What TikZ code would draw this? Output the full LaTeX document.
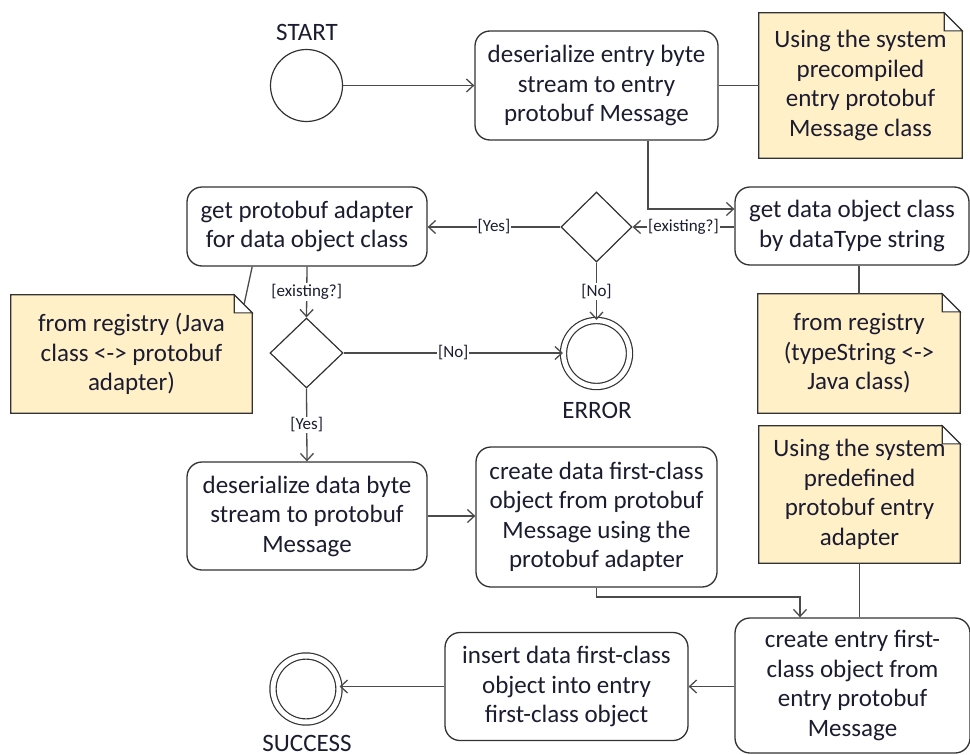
\documentclass[tikz,border=0pt]{standalone}
\usepackage{fontspec}
\setmainfont{Carlito}
\usetikzlibrary{shapes.geometric,arrows.meta,backgrounds}
\definecolor{ink}{RGB}{28,28,48}
\definecolor{edge}{RGB}{50,50,50}
\definecolor{wire}{RGB}{75,75,75}
\definecolor{notefill}{RGB}{255,240,200}

\tikzset{
  txt/.style={font=\fontsize{25}{29.5}\selectfont, text=ink, align=center},
  action/.style={txt, draw=edge, line width=1.3pt, rounded corners=15pt, fill=white, inner sep=0pt},
  decision/.style={diamond, draw=edge, line width=1.2pt, fill=white, inner sep=0pt},
  initial/.style={circle, draw=edge, line width=1.2pt, minimum size=72pt, inner sep=0pt},
  final/.style={circle, draw=edge, double, double distance=5pt, line width=1.2pt, minimum size=66pt, inner sep=0pt},
  notetext/.style={txt, inner sep=0pt},
  noteframe/.style={draw=edge, line width=1.3pt, fill=notefill},
  foldframe/.style={draw=edge, line width=1.1pt, fill=white},
  flow/.style={draw=wire, line width=1.3pt, -{Straight Barb[length=7pt,width=13pt]}},
  link/.style={draw=wire, line width=1.3pt},
  guard/.style={font=\fontsize{17}{19}\selectfont, text=ink, fill=white, inner sep=1pt},
  caption/.style={txt},
}

% dog-eared note outline drawn behind a text node
\newcommand{\notebg}[1]{%
  \begin{pgfonlayer}{background}
    \path[noteframe] (#1.north west) -- ([xshift=-18pt]#1.north east)
      -- ([yshift=-18pt]#1.north east) -- (#1.south east) -- (#1.south west) -- cycle;
    \path[foldframe] ([xshift=-18pt]#1.north east) -- ([xshift=-18pt,yshift=-18pt]#1.north east)
      -- ([yshift=-18pt]#1.north east) -- cycle;
  \end{pgfonlayer}}

\begin{document}
\begin{tikzpicture}[x=1pt,y=-1pt]
\useasboundingbox (0,0) rectangle (970,755);

% start / end states
\node[initial] (start) at (306.5,85.5) {};
\node[caption] (startlbl) at (307,32) {START};
\node[final] (error) at (596.5,353.5) {};
\node[caption] (errorlbl) at (597,410) {ERROR};
\node[final] (success) at (306,689) {};
\node[caption] (successlbl) at (307,743) {SUCCESS};

% actions
\node[action, minimum width=243pt, minimum height=109pt] (b1) at (596.5,85.5)
  {deserialize entry byte\\stream to entry\\protobuf Message};
\node[action, minimum width=234pt, minimum height=78pt] (bget) at (852,226)
  {get data object class\\by dataType string};
\node[action, minimum width=240pt, minimum height=79pt] (badapt) at (307,226.5)
  {get protobuf adapter\\for data object class};
\node[action, minimum width=240pt, minimum height=108pt] (bdeser) at (307,516)
  {deserialize data byte\\stream to protobuf\\Message};
\node[action, minimum width=241pt, minimum height=140pt] (bcreate) at (596.5,517)
  {create data first-class\\object from protobuf\\Message using the\\protobuf adapter};
\node[action, minimum width=235pt, minimum height=135pt] (bentry) at (852.5,685.5)
  {create entry first-\\class object from\\entry protobuf\\Message};
\node[action, minimum width=243pt, minimum height=108pt] (binsert) at (566.5,686.5)
  {insert data first-class\\object into entry\\first-class object};

% decisions
\node[decision, minimum width=71pt, minimum height=70pt] (d1) at (596.5,227) {};
\node[decision, minimum width=73pt, minimum height=70pt] (d2) at (306.5,353) {};

% notes
\node[notetext, minimum width=203pt, minimum height=145pt] (n1) at (860.5,85.5)
  {Using the system\\precompiled\\entry protobuf\\Message class};
\notebg{n1}
\node[notetext, minimum width=241pt, minimum height=118pt] (n2) at (131.5,354)
  {from registry (Java\\class <-> protobuf\\adapter)};
\notebg{n2}
\node[notetext, minimum width=202pt, minimum height=119pt] (n3) at (859,353.5)
  {from registry\\(typeString <->\\Java class)};
\notebg{n3}
\node[notetext, minimum width=201pt, minimum height=137pt] (n4) at (859.5,494.5)
  {Using the system\\predefined\\protobuf entry\\adapter};
\notebg{n4}

% bend points
\coordinate (j1) at (648,209);
\coordinate (j2) at (800,597);

% control flow
\draw[flow] (start) -- (b1);
\draw[flow] (b1.south -| j1) |- (bget.west |- j1);
\draw[flow] (d1.east -| bget.west) -- node[guard] {[existing?]} (d1.east);
\draw[flow] (d1.west) -- node[guard] {[Yes]} (d1.west -| badapt.east);
\draw[flow] (d1.south) -- node[guard] {[No]} (error.north);
\draw[flow] (badapt.south) -- node[guard] {[existing?]} (d2.north);
\draw[flow] (d2.east) -- node[guard] {[No]} (d2.east -| error.west);
\draw[flow] (d2.south) -- node[guard] {[Yes]} (bdeser.north);
\draw[flow] (bdeser.east) -- (bdeser.east -| bcreate.west);
\draw[flow] (bcreate.south) |- (j2) -- (j2 |- bentry.north);
\draw[flow] (bentry.west |- binsert.east) -- (binsert.east);
\draw[flow] (binsert.west) -- (success.east |- binsert.west);

% note anchors
\draw[link] (b1.east) -- (n1.west);
\draw[link] (badapt.south -| n2.north east) -- ([xshift=-8pt,yshift=-9pt]n2.north east);
\draw[link] (bget.south -| n3.north) -- (n3.north);
\draw[link] (n4.south) -- (n4.south |- bentry.north);
\end{tikzpicture}
\end{document}
